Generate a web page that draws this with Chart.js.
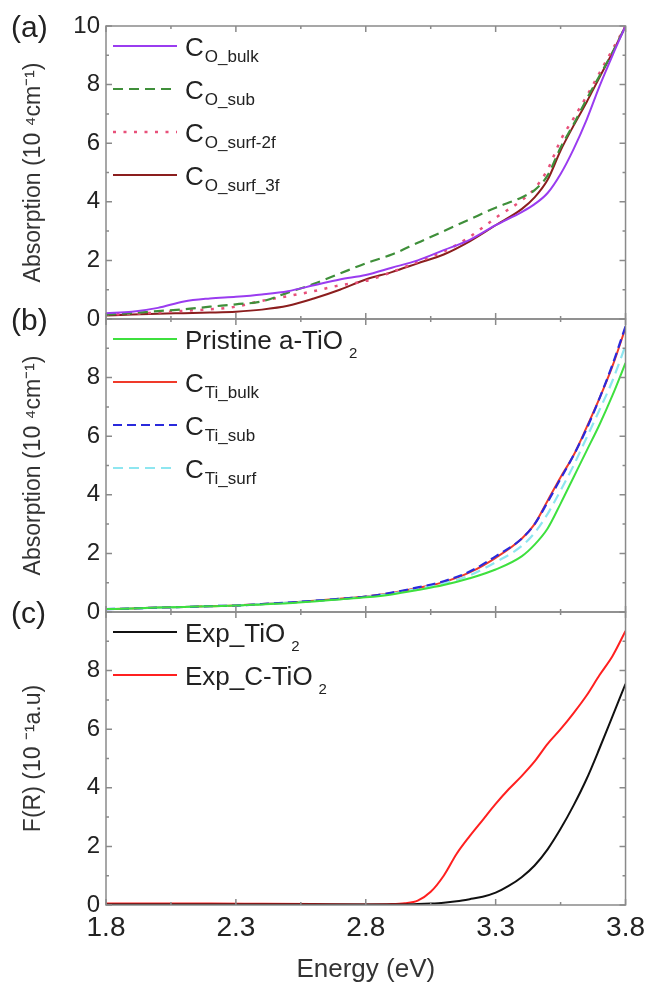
<!DOCTYPE html>
<html>
<head>
<meta charset="utf-8">
<title>Absorption spectra of C-doped TiO2</title>
<script src="https://cdn.jsdelivr.net/npm/chart.js@4.4.1/dist/chart.umd.min.js"></script>
<style>
    html, body { margin: 0; padding: 0; background: #fff; }
    #wrap { width: 651px; height: 985px; position: relative; }
</style>
</head>
<body>
<div id="wrap"><canvas id="absChart"></canvas></div>
<script>
// shared axes
const energyTicks = [1.8, 2.3, 2.8, 3.3, 3.8];
const valueTicks = [0, 2, 4, 6, 8, 10];

// panel (a) - carbon on O sites
const energyA = [1.8, 1.9, 2.0, 2.1, 2.2, 2.3, 2.4, 2.5, 2.6, 2.7, 2.8, 2.9, 3.0, 3.1, 3.2, 3.3, 3.4, 3.45, 3.5, 3.55, 3.6, 3.65, 3.7, 3.75, 3.8];
const coBulk = [0.2, 0.25, 0.38, 0.6, 0.7, 0.76, 0.84, 0.95, 1.15, 1.35, 1.5, 1.75, 2.0, 2.35, 2.7, 3.2, 3.65, 3.92, 4.3, 4.95, 5.8, 6.8, 7.95, 9.0, 10.0];
const coSub = [0.15, 0.2, 0.27, 0.33, 0.42, 0.5, 0.6, 0.9, 1.2, 1.55, 1.9, 2.2, 2.6, 3.0, 3.4, 3.8, 4.15, 4.4, 4.9, 5.85, 6.65, 7.5, 8.3, 9.1, 10.0];
const coSurf2f = [0.15, 0.18, 0.22, 0.28, 0.33, 0.42, 0.62, 0.78, 0.95, 1.15, 1.3, 1.6, 1.95, 2.3, 2.8, 3.45, 4.05, 4.45, 5.1, 6.1, 6.85, 7.6, 8.4, 9.2, 10.0];
const coSurf3f = [0.12, 0.15, 0.18, 0.2, 0.22, 0.25, 0.32, 0.45, 0.7, 1.0, 1.35, 1.6, 1.9, 2.2, 2.65, 3.2, 3.75, 4.15, 4.75, 5.75, 6.6, 7.4, 8.25, 9.1, 10.0];
const legendA = [["C", "O_bulk"], ["C", "O_sub"], ["C", "O_surf-2f"], ["C", "O_surf_3f"]];

// panel (b) - carbon on Ti sites
const energyB = [1.8, 1.9, 2.0, 2.1, 2.2, 2.3, 2.4, 2.5, 2.6, 2.7, 2.8, 2.9, 3.0, 3.1, 3.2, 3.3, 3.4, 3.45, 3.5, 3.55, 3.6, 3.65, 3.7, 3.75, 3.8];
const tiPristine = [0.1, 0.12, 0.15, 0.17, 0.2, 0.22, 0.26, 0.3, 0.36, 0.43, 0.5, 0.6, 0.75, 0.92, 1.15, 1.45, 1.9, 2.3, 2.85, 3.7, 4.6, 5.5, 6.4, 7.4, 8.5];
const tiBulk = [0.1, 0.12, 0.15, 0.17, 0.2, 0.22, 0.27, 0.32, 0.38, 0.45, 0.53, 0.65, 0.82, 1.02, 1.35, 1.85, 2.5, 3.0, 3.8, 4.6, 5.35, 6.3, 7.3, 8.4, 9.7];
const tiSub = [0.1, 0.12, 0.15, 0.17, 0.2, 0.22, 0.27, 0.32, 0.38, 0.45, 0.53, 0.66, 0.84, 1.05, 1.38, 1.9, 2.5, 3.0, 3.75, 4.55, 5.35, 6.25, 7.3, 8.45, 9.75];
const tiSurf = [0.1, 0.12, 0.15, 0.17, 0.2, 0.22, 0.27, 0.32, 0.38, 0.45, 0.52, 0.63, 0.8, 0.98, 1.25, 1.7, 2.25, 2.7, 3.35, 4.15, 5.0, 5.95, 6.9, 7.9, 9.1];
const legendB = [["Pristine a-TiO", "2"], ["C", "Ti_bulk"], ["C", "Ti_sub"], ["C", "Ti_surf"]];

// panel (c) - experiment
const energyC = [1.8, 2.0, 2.2, 2.4, 2.6, 2.8, 2.9, 2.95, 3.0, 3.05, 3.1, 3.15, 3.2, 3.25, 3.3, 3.35, 3.4, 3.45, 3.5, 3.55, 3.6, 3.65, 3.7, 3.75, 3.8];
const expTiO2 = [0.02, 0.02, 0.02, 0.02, 0.02, 0.02, 0.02, 0.02, 0.03, 0.05, 0.08, 0.13, 0.2, 0.28, 0.42, 0.65, 0.95, 1.35, 1.9, 2.6, 3.4, 4.3, 5.35, 6.45, 7.55];
const expCTiO2 = [0.05, 0.05, 0.05, 0.04, 0.03, 0.02, 0.03, 0.06, 0.15, 0.45, 1.0, 1.75, 2.35, 2.9, 3.45, 3.95, 4.4, 4.9, 5.5, 6.0, 6.55, 7.15, 7.85, 8.5, 9.35];
const legendC = [["Exp_TiO", "2"], ["Exp_C-TiO", "2"]];

const panelLetters = ["(a)", "(b)", "(c)"];
const panelIds = ["ya", "yb", "yc"];

const fontFamily = "'Liberation Sans', Arial, sans-serif";

const toPoints = (xs, ys) => xs.map((x, i) => ({ x: x, y: ys[i] }));

const makeLine = (label, legend, xs, ys, axis, color, dash, width) => ({
    label: label,
    legendText: legend,
    data: toPoints(xs, ys),
    yAxisID: axis,
    borderColor: color,
    backgroundColor: color,
    borderDash: dash,
    borderWidth: width,
    pointRadius: 0,
    fill: false,
    cubicInterpolationMode: "monotone"
});

const datasets = [
    makeLine("C_O_bulk", legendA[0], energyA, coBulk, "ya", "#9a3cf0", [], 2),
    makeLine("C_O_sub", legendA[1], energyA, coSub, "ya", "#3f8f3a", [10, 6], 2.2),
    makeLine("C_O_surf-2f", legendA[2], energyA, coSurf2f, "ya", "#e8507a", [3, 7.5], 2.5),
    makeLine("C_O_surf_3f", legendA[3], energyA, coSurf3f, "ya", "#8b1e1e", [], 2),
    makeLine("Pristine a-TiO2", legendB[0], energyB, tiPristine, "yb", "#3ee03e", [], 2),
    makeLine("C_Ti_bulk", legendB[1], energyB, tiBulk, "yb", "#f03a2a", [], 2),
    makeLine("C_Ti_sub", legendB[2], energyB, tiSub, "yb", "#2a2adc", [9, 5], 2.2),
    makeLine("C_Ti_surf", legendB[3], energyB, tiSurf, "yb", "#8ee6f0", [10, 6], 2.2),
    makeLine("Exp_TiO2", legendC[0], energyC, expTiO2, "yc", "#111111", [], 2),
    makeLine("Exp_C-TiO2", legendC[1], energyC, expCTiO2, "yc", "#ff2020", [], 2)
];
// draw red C_Ti_bulk underneath the dashed ones
datasets[5].order = 1;

const panelScale = (title, showTop) => ({
    type: "linear",
    position: "left",
    stack: "panels",
    stackWeight: 1,
    min: 0,
    max: 10,
    afterBuildTicks: (scale) => {
        scale.ticks = valueTicks.map((v) => ({ value: v }));
    },
    afterFit: (scale) => {
        scale.width = 90;
    },
    grid: { display: false, drawTicks: false },
    border: { display: false },
    ticks: {
        autoSkip: false,
        padding: 6,
        color: "#222",
        font: { family: fontFamily, size: 24 },
        callback: (value) => (value === 10 && !showTop ? "" : value)
    },
    title: {
        display: true,
        text: title,
        color: "#333",
        font: { family: fontFamily, size: 23 },
        padding: { top: 4, bottom: 0 }
    }
});

const midpoints = (arr) => {
    const out = [];
    for (let i = 0; i < arr.length - 1; i++) {
        out.push((arr[i] + arr[i + 1]) / 2);
    }
    return out;
};

const framePlugin = {
    id: "panelFrames",
    afterDatasetsDraw(chart) {
        const ctx = chart.ctx;
        const area = chart.chartArea;
        const xScale = chart.scales.x;
        const minorX = midpoints(energyTicks);
        const minorY = midpoints(valueTicks);

        ctx.save();
        ctx.strokeStyle = "#8a8a8a";
        ctx.lineWidth = 1.5;

        for (let id of panelIds) {
            const ys = chart.scales[id];
            ctx.strokeRect(area.left, ys.top, area.right - area.left, ys.bottom - ys.top);
            ctx.beginPath();

            for (let v of energyTicks) {
                const px = xScale.getPixelForValue(v);
                ctx.moveTo(px, ys.top);
                ctx.lineTo(px, ys.top + 6);
                ctx.moveTo(px, ys.bottom);
                ctx.lineTo(px, ys.bottom - 6);
            }
            for (let v of minorX) {
                const px = xScale.getPixelForValue(v);
                ctx.moveTo(px, ys.top);
                ctx.lineTo(px, ys.top + 3);
                ctx.moveTo(px, ys.bottom);
                ctx.lineTo(px, ys.bottom - 3);
            }
            for (let v of valueTicks) {
                const py = ys.getPixelForValue(v);
                ctx.moveTo(area.left, py);
                ctx.lineTo(area.left + 6, py);
                ctx.moveTo(area.right, py);
                ctx.lineTo(area.right - 6, py);
            }
            for (let v of minorY) {
                const py = ys.getPixelForValue(v);
                ctx.moveTo(area.left, py);
                ctx.lineTo(area.left + 3, py);
                ctx.moveTo(area.right, py);
                ctx.lineTo(area.right - 3, py);
            }
            ctx.stroke();
        }
        ctx.restore();
    }
};

const legendPlugin = {
    id: "panelLegends",
    afterDraw(chart) {
        const ctx = chart.ctx;
        const area = chart.chartArea;
        const rowCount = {};

        ctx.save();
        ctx.textBaseline = "alphabetic";
        ctx.textAlign = "left";
        ctx.fillStyle = "#222";

        chart.data.datasets.forEach((ds) => {
            const ys = chart.scales[ds.yAxisID];
            const row = rowCount[ds.yAxisID] || 0;
            rowCount[ds.yAxisID] = row + 1;
            const y = ys.top + 20 + row * 43;

            ctx.strokeStyle = ds.borderColor;
            ctx.lineWidth = ds.borderWidth;
            ctx.setLineDash(ds.borderDash);
            ctx.beginPath();
            ctx.moveTo(area.left + 7, y);
            ctx.lineTo(area.left + 71, y);
            ctx.stroke();
            ctx.setLineDash([]);

            const main = ds.legendText[0];
            const sub = ds.legendText[1];
            const numeric = /^\d+$/.test(sub);
            const tx = area.left + 79;

            ctx.font = `26px ${fontFamily}`;
            ctx.fillText(main, tx, y + 10);
            const w = ctx.measureText(main).width;
            ctx.font = `${numeric ? 15 : 17}px ${fontFamily}`;
            ctx.fillText(sub, tx + w + (numeric ? 6 : 1), y + 10 + (numeric ? 9 : 6));
        });

        ctx.font = `30px ${fontFamily}`;
        ctx.textBaseline = "middle";
        panelIds.forEach((id, i) => {
            ctx.fillText(panelLetters[i], 11, chart.scales[id].top + 3);
        });
        ctx.restore();
    }
};

new Chart(document.querySelector("#absChart"), {
    type: "line",
    data: { datasets: datasets },
    options: {
        responsive: true,
        maintainAspectRatio: false,
        animation: false,
        layout: { padding: { left: 16, top: 26, right: 21, bottom: 0 } },
        plugins: {
            legend: { display: false },
            tooltip: { enabled: false }
        },
        scales: {
            x: {
                type: "linear",
                position: "bottom",
                min: 1.8,
                max: 3.8,
                afterBuildTicks: (scale) => {
                    scale.ticks = energyTicks.map((v) => ({ value: v }));
                },
                afterFit: (scale) => {
                    scale.height = 80;
                },
                grid: { display: false, drawTicks: false },
                border: { display: false },
                ticks: {
                    autoSkip: false,
                    maxRotation: 0,
                    padding: 6,
                    color: "#222",
                    font: { family: fontFamily, size: 28 },
                    callback: (value) => Number(value).toFixed(1)
                },
                title: {
                    display: true,
                    text: "Energy (eV)",
                    color: "#333",
                    font: { family: fontFamily, size: 26 },
                    padding: 0
                }
            },
            yc: panelScale("F(R) (10 \u207B\u00B9a.u)", false),
            yb: panelScale("Absorption (10 \u2074cm\u207B\u00B9)", false),
            ya: panelScale("Absorption (10 \u2074cm\u207B\u00B9)", true)
        }
    },
    plugins: [framePlugin, legendPlugin]
});
</script>
</body>
</html>
